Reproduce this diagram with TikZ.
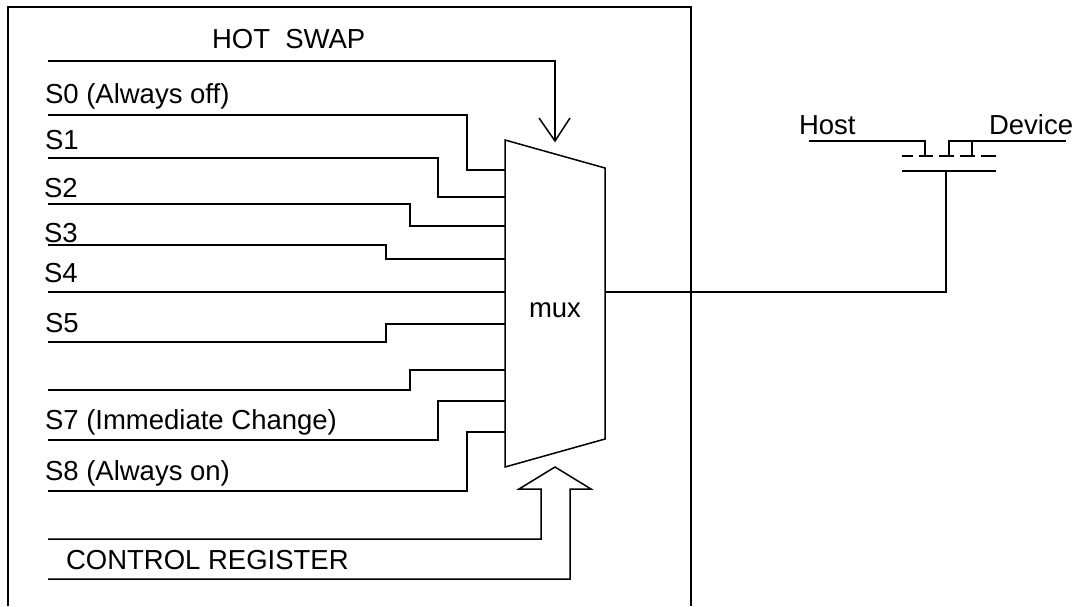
\documentclass[tikz,border=0pt]{standalone}
\usepackage{fontspec}
\setmainfont{Liberation Sans}
\tikzset{
  wire/.style={draw=black,line width=1.5pt,line join=miter},
  lbl/.style={anchor=base west,inner sep=0pt,outer sep=0pt,font=\fontsize{27.5}{30}\selectfont,text=black},
}
\begin{document}
\begin{tikzpicture}[x=1pt,y=-1pt]
\useasboundingbox (0,0) rectangle (1078,606);
% frame (open at the bottom)
\coordinate (fbl) at (8,606);
\coordinate (ftl) at (8,7);
\coordinate (ftr) at (691,7);
\coordinate (fbr) at (691,606);
\draw[wire] (fbl) -- (ftl) -- (ftr) -- (fbr);
% mux
\coordinate (mtl) at (505,140);
\coordinate (mtr) at (605,168);
\coordinate (mbr) at (605,439);
\coordinate (mbl) at (505,467);
\draw[wire] (mtl) -- (mtr) -- (mbr) -- (mbl) -- cycle;
\node[lbl,anchor=base] (muxlabel) at (555,317) {mux};
% labels
\node[lbl] (thot) at (212,48) {HOT\ \ SWAP};
\node[lbl] (ts0) at (45,103) {S0 (Always off)};
\node[lbl] (ts1) at (45,149) {S1};
\node[lbl] (ts2) at (44,197) {S2};
\node[lbl] (ts3) at (44,242) {S3};
\node[lbl] (ts4) at (44,282) {S4};
\node[lbl] (ts5) at (45,332) {S5};
\node[lbl] (ts7) at (45,429) {S7 (Immediate Change)};
\node[lbl] (ts8) at (45,480) {S8 (Always on)};
\node[lbl] (tctl) at (66,569) {CONTROL REGISTER};
\node[lbl] (thost) at (799,134) {Host};
\node[lbl] (tdev) at (989,134) {Device};
% hot swap arrow
\coordinate (hs) at (48,61);
\coordinate (hstip) at (555,141);
\coordinate (hsl) at (539,118);
\coordinate (hsr) at (570,118);
\draw[wire] (hs) -| (hstip);
\draw[wire] (hsl) -- (hstip) -- (hsr);
% inputs: start, bend x, mux entry
\foreach \n/\ys/\xb/\ye in {0/115/467/170,1/158/438/197,2/204/410/226,3/245/386/259,5/342/386/324,6/390/410/370,7/440/438/401,8/491/467/432}{
  \coordinate (in\n) at (48,\ys);
  \coordinate (bend\n) at (\xb,\ye);
  \coordinate (mi\n) at (505,\ye);
  \draw[wire] (in\n) -| (bend\n) -- (mi\n);
}
\coordinate (in4) at (48,292);
\coordinate (mi4) at (505,292);
\draw[wire] (in4) -- (mi4);
% control register arrow
\coordinate (c1) at (48,539);
\coordinate (c2) at (541,539);
\coordinate (c3) at (541,489);
\coordinate (c4) at (519,489);
\coordinate (c5) at (555,467);
\coordinate (c6) at (591,489);
\coordinate (c7) at (570,489);
\coordinate (c8) at (570,579);
\coordinate (c9) at (48,579);
\draw[wire] (c1) -- (c2) -- (c3) -- (c4) -- (c5) -- (c6) -- (c7) -- (c8) -- (c9);
% output to gate
\coordinate (mo) at (605,292);
\coordinate (gm) at (946,171);
\draw[wire] (mo) -| (gm);
% transistor
\coordinate (gl) at (902,171);
\coordinate (gr) at (996,171);
\draw[wire] (gl) -- (gr);
\foreach \a/\b [count=\i] in {902/913,919/933,939/954,960/975,981/996}{
  \coordinate (cha\i) at (\a,156);
  \coordinate (chb\i) at (\b,156);
  \draw[wire] (cha\i) -- (chb\i);
}
\coordinate (hl) at (809,141);
\coordinate (hd) at (925,156);
\draw[wire] (hl) -| (hd);
\coordinate (dl) at (949,156);
\coordinate (dr) at (1066,141);
\draw[wire] (dl) |- (dr);
\coordinate (bt) at (972,141);
\coordinate (bb) at (972,156);
\draw[wire] (bt) -- (bb);
\end{tikzpicture}
\end{document}
